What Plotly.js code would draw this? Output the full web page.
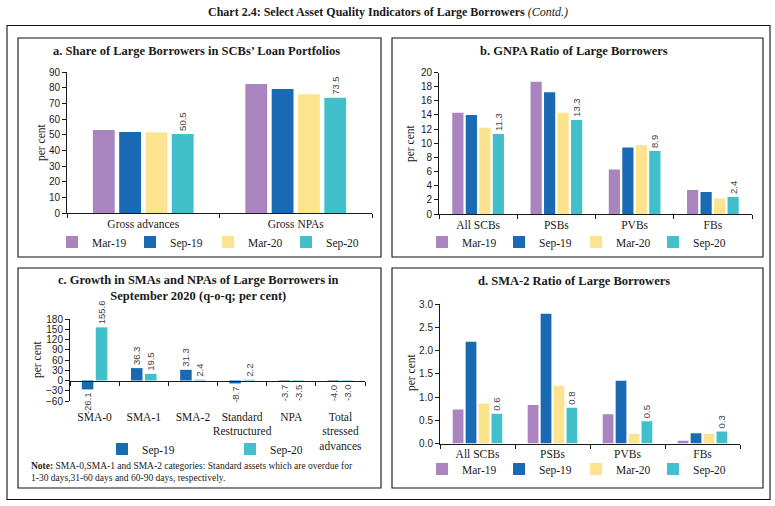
<!DOCTYPE html>
<html><head><meta charset="utf-8">
<script src="https://cdn.plot.ly/plotly-3.0.1.min.js"></script>
<style>html,body{margin:0;padding:0;background:#fff}#chart{width:775px;height:506px}</style>
</head><body><div id="chart"></div>
<script>
const W = 775, H = 506;
const periods = ['Mar-19', 'Sep-19', 'Mar-20', 'Sep-20'];
const colors = ['#A984BE', '#1A6AB3', '#FCE390', '#41C0CB'];

// a. Share of Large Borrowers in SCBs' Loan Portfolios
const catsA = ['Gross advances', 'Gross NPAs'];
const shareMar19 = [53.0, 82.3];
const shareSep19 = [51.7, 79.2];
const shareMar20 = [51.5, 75.8];
const shareSep20 = [50.5, 73.5];

// b. GNPA Ratio of Large Borrowers
const catsB = ['All SCBs', 'PSBs', 'PVBs', 'FBs'];
const gnpaMar19 = [14.3, 18.7, 6.3, 3.4];
const gnpaSep19 = [14.0, 17.2, 9.4, 3.1];
const gnpaMar20 = [12.2, 14.3, 9.7, 2.2];
const gnpaSep20 = [11.3, 13.3, 8.9, 2.4];

// c. Growth in SMAs and NPAs of Large Borrowers
const catsC = ['SMA-0', 'SMA-1', 'SMA-2', 'Standard<br>Restructured', 'NPA', 'Total<br>stressed<br>advances'];
const growthSep19 = [-26.1, 36.3, 31.3, -8.7, -3.7, -4.0];
const growthSep20 = [155.6, 19.5, 2.4, 2.2, -3.5, -3.0];

// d. SMA-2 Ratio of Large Borrowers
const catsD = ['All SCBs', 'PSBs', 'PVBs', 'FBs'];
const sma2Mar19 = [0.73, 0.83, 0.63, 0.06];
const sma2Sep19 = [2.19, 2.79, 1.35, 0.22];
const sma2Mar20 = [0.86, 1.24, 0.21, 0.21];
const sma2Sep20 = [0.64, 0.77, 0.48, 0.26];

const fx = v => v / W;
const fy = v => 1 - v / H;
const SERIF = 'Liberation Serif, Times New Roman, serif';
const SANS = 'Liberation Sans, Arial, sans-serif';
const INK = '#1a1a1a';

function groupTraces(cats, seriesList, xa, ya, leg) {
  return seriesList.map((vals, i) => ({
    type: 'bar', x: cats, y: vals, name: periods[i],
    marker: {color: colors[i]}, xaxis: xa, yaxis: ya, legend: leg,
    texttemplate: i === 3 ? '%{y:.1f}' : '', textposition: i === 3 ? 'outside' : 'none',
    textangle: -90, constraintext: 'none', cliponaxis: false,
    textfont: {family: SANS, size: 9.5, color: '#444'}, hoverinfo: 'skip'
  }));
}

const traces = [
  ...groupTraces(catsA, [shareMar19, shareSep19, shareMar20, shareSep20], 'x', 'y', 'legend'),
  ...groupTraces(catsB, [gnpaMar19, gnpaSep19, gnpaMar20, gnpaSep20], 'x2', 'y2', 'legend2'),
  ...groupTraces(catsD, [sma2Mar19, sma2Sep19, sma2Mar20, sma2Sep20], 'x4', 'y4', 'legend4'),
  {type: 'bar', x: catsC, y: growthSep19, name: 'Sep-19', marker: {color: colors[1]},
   xaxis: 'x3', yaxis: 'y3', legend: 'legend3', width: 0.235, offset: -0.26,
   texttemplate: '%{y:.1f}', textposition: 'outside', textangle: -90, constraintext: 'none',
   cliponaxis: false, textfont: {family: SANS, size: 9.5, color: '#444'}, hoverinfo: 'skip'},
  {type: 'bar', x: catsC, y: growthSep20, name: 'Sep-20', marker: {color: colors[3]},
   xaxis: 'x3', yaxis: 'y3', legend: 'legend3', width: 0.235, offset: 0.025,
   texttemplate: '%{y:.1f}', textposition: 'outside', textangle: -90, constraintext: 'none',
   cliponaxis: false, textfont: {family: SANS, size: 9.5, color: '#444'}, hoverinfo: 'skip'},
  // helper to register categories on the label axis of panel c
  {type: 'scatter', mode: 'markers', x: catsC, y: growthSep19, xaxis: 'x5', yaxis: 'y3',
   marker: {opacity: 0}, showlegend: false, hoverinfo: 'skip'}
];

function yax(domain, range, dtick, fmt) {
  return {domain, range, dtick, tickformat: fmt || '', showline: true, linecolor: INK, linewidth: 1,
    ticks: 'outside', ticklen: 4, tickcolor: INK, showgrid: false, zeroline: false, fixedrange: true,
    tickfont: {family: SANS, size: 10, color: INK}};
}
function xax(domain, anchor) {
  return {domain, anchor, type: 'category', showline: true, linecolor: INK, linewidth: 1,
    ticks: 'outside', tickson: 'boundaries', ticklen: 4, tickcolor: INK, showgrid: false, tickangle: 0,
    fixedrange: true, tickfont: {family: SERIF, size: 11.5, color: INK}};
}

const domA = {x: [fx(67), fx(372)], y: [fy(213), fy(72)]};
const domB = {x: [fx(439), fx(752)], y: [fy(214), fy(72.5)]};
const domC = {x: [fx(70), fx(365)], y: [fy(401), fy(319)]};
const domD = {x: [fx(440), fx(740)], y: [fy(443.5), fy(304)]};
const rangeC = [-60, 180];
const zeroPosC = domC.y[0] + (0 - rangeC[0]) / (rangeC[1] - rangeC[0]) * (domC.y[1] - domC.y[0]);

function legend(x, y, ew) {
  return {orientation: 'h', x, y, xanchor: 'left', yanchor: 'middle', entrywidth: ew,
    entrywidthmode: 'pixels', bgcolor: 'rgba(0,0,0,0)', font: {family: SERIF, size: 11.5, color: INK},
    itemclick: false, itemdoubleclick: false, traceorder: 'normal'};
}

function ann(text, x, y, size, opts) {
  return Object.assign({text, x: fx(x), y: fy(y), xref: 'paper', yref: 'paper', showarrow: false,
    xanchor: 'center', yanchor: 'middle', font: {family: SERIF, size, color: INK}}, opts || {});
}
function box(x0, y0, x1, y1) {
  return {type: 'rect', xref: 'paper', yref: 'paper', x0: fx(x0), y0: fy(y0), x1: fx(x1), y1: fy(y1),
    line: {color: '#111', width: 1.1}, fillcolor: 'rgba(0,0,0,0)'};
}

const layout = {
  width: W, height: H, margin: {l: 0, r: 0, t: 0, b: 0}, paper_bgcolor: '#fff', plot_bgcolor: 'rgba(0,0,0,0)',
  barmode: 'group', bargap: 0.31, bargroupgap: 0.17, showlegend: true,
  xaxis: xax(domA.x, 'y'), yaxis: Object.assign(yax(domA.y, [0, 90], 10), {anchor: 'x'}),
  xaxis2: xax(domB.x, 'y2'), yaxis2: Object.assign(yax(domB.y, [0, 20], 2), {anchor: 'x2'}),
  xaxis3: Object.assign(xax(domC.x, 'free'), {position: zeroPosC, showticklabels: false, range: [-0.5, 5.5]}),
  yaxis3: Object.assign(yax(domC.y, rangeC, 30), {anchor: 'x3'}),
  xaxis5: Object.assign(xax(domC.x, 'y3'), {overlaying: 'x3', showline: false, ticks: '', range: [-0.5, 5.5],
    ticklabelstandoff: 7, tickfont: {family: SERIF, size: 11.5, color: INK}}),
  xaxis4: xax(domD.x, 'y4'), yaxis4: Object.assign(yax(domD.y, [0, 3], 0.5, '.1f'), {anchor: 'x4'}),
  legend: legend(fx(52), fy(242), 33),
  legend2: legend(fx(422), fy(242), 32),
  legend4: legend(fx(422), fy(469), 32),
  legend3: legend(fx(102), fy(449), 83),
  shapes: [
    box(7, 25.5, 770, 499.5),
    box(18, 38, 381, 257), box(392, 38, 763, 257),
    box(18, 268, 381, 488), box(392, 268, 763, 488)
  ],
  annotations: [
    ann('<b>Chart 2.4: Select Asset Quality Indicators of Large Borrowers</b> <i>(Contd.)</i>', 388, 12, 12),
    ann('<b>a. Share of Large Borrowers in SCBs\u2019 Loan Portfolios</b>', 196, 51.5, 12.5),
    ann('<b>b. GNPA Ratio of Large Borrowers</b>', 574, 51.5, 12.5),
    ann('<b>c. Growth in SMAs and NPAs of Large Borrowers in<br>September 2020 (q-o-q; per cent)</b>', 198, 288, 12.5),
    ann('<b>d. SMA-2 Ratio of Large Borrowers</b>', 574, 281, 12.5),
    ann('per cent', 42, 142, 11.5, {textangle: -90}),
    ann('per cent', 411, 143, 11.5, {textangle: -90}),
    ann('per cent', 37, 359, 11.5, {textangle: -90}),
    ann('per cent', 411, 372, 11.5, {textangle: -90}),
    ann('<b>Note:</b> SMA-0,SMA-1 and SMA-2 categories: Standard assets which are overdue for<br>1-30 days,31-60 days and 60-90 days, respectively.',
        29, 472, 9.5, {xanchor: 'left', align: 'left'})
  ]
};

Plotly.newPlot('chart', traces, layout, {staticPlot: true, displayModeBar: false});
</script>
</body></html>
